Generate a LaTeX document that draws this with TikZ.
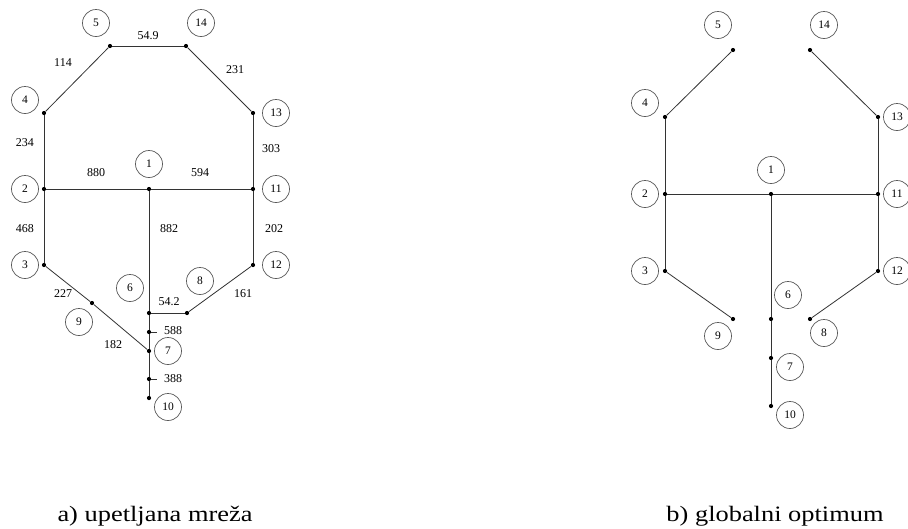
\documentclass[tikz,border=0pt]{standalone}
\usepackage{fontspec}
\setmainfont{Liberation Serif}
\newfontfamily\capfont[FakeStretch=1.2]{Liberation Serif}
\begin{document}
\begin{tikzpicture}[x=1pt,y=-1pt,
  jdot/.style={circle,fill=black,inner sep=0pt,minimum size=4.2pt},
  num/.style={circle,draw=black!65,line width=0.7pt,minimum size=27pt,inner sep=0pt,font=\fontsize{11.5}{12}\selectfont},
  lbl/.style={font=\fontsize{12}{13}\selectfont,inner sep=0pt},
  link/.style={draw=black!80,line width=0.8pt},
  captext/.style={font=\capfont\fontsize{22}{24}\selectfont,anchor=base,inner sep=0pt}]
\useasboundingbox (0,0) rectangle (908,528);
% ---------------- left: looped network
\node[jdot] (a5) at (110,46) {};
\node[jdot] (a14) at (186,46) {};
\node[jdot] (a4) at (44,113) {};
\node[jdot] (a13) at (253,113) {};
\node[jdot] (a2) at (44,189) {};
\node[jdot] (a1) at (149,189) {};
\node[jdot] (a11) at (253,189) {};
\node[jdot] (a3) at (44,265) {};
\node[jdot] (a12) at (253,265) {};
\node[jdot] (a9) at (92,303) {};
\node[jdot] (a6) at (149,313) {};
\node[jdot] (a8) at (187,313) {};
\node[jdot] (a588) at (149,332) {};
\node[jdot] (a7) at (149,351) {};
\node[jdot] (a388) at (149,379) {};
\node[jdot] (a10) at (149,398) {};
\coordinate (a588e) at (157,332);
\coordinate (a388e) at (157,379);
\draw[link] (a5) -- (a14);
\draw[link] (a5) -- (a4);
\draw[link] (a14) -- (a13);
\draw[link] (a4) -- (a2);
\draw[link] (a13) -- (a11);
\draw[link] (a2) -- (a1);
\draw[link] (a1) -- (a11);
\draw[link] (a2) -- (a3);
\draw[link] (a11) -- (a12);
\draw[link] (a1) -- (a6);
\draw[link] (a6) -- (a8);
\draw[link] (a8) -- (a12);
\draw[link] (a3) -- (a9);
\draw[link] (a9) -- (a7);
\draw[link] (a6) -- (a588);
\draw[link] (a588) -- (a7);
\draw[link] (a7) -- (a388);
\draw[link] (a388) -- (a10);
\draw[link] (a588) -- (a588e);
\draw[link] (a388) -- (a388e);
\node[num] (ca5) at (96,23) {5};
\node[num] (ca14) at (201,23) {14};
\node[num] (ca4) at (25,100) {4};
\node[num] (ca13) at (276,113) {13};
\node[num] (ca1) at (149,164) {1};
\node[num] (ca2) at (25,189) {2};
\node[num] (ca11) at (276,189) {11};
\node[num] (ca3) at (25,265) {3};
\node[num] (ca12) at (276,265) {12};
\node[num] (ca6) at (130,288) {6};
\node[num] (ca8) at (200,281) {8};
\node[num] (ca9) at (79,322) {9};
\node[num] (ca7) at (168,351) {7};
\node[num] (ca10) at (168,407) {10};
\node[lbl] (l549) at (148,36) {54.9};
\node[lbl] (l114) at (63,63) {114};
\node[lbl] (l231) at (235,70) {231};
\node[lbl] (l234) at (25,143) {234};
\node[lbl] (l303) at (271,149) {303};
\node[lbl] (l880) at (96,173) {880};
\node[lbl] (l594) at (200,173) {594};
\node[lbl] (l468) at (25,229) {468};
\node[lbl] (l882) at (169,229) {882};
\node[lbl] (l202) at (274,229) {202};
\node[lbl] (l227) at (63,294) {227};
\node[lbl] (l161) at (243,294) {161};
\node[lbl] (l542) at (169,302) {54.2};
\node[lbl] (l588) at (173,331) {588};
\node[lbl] (l182) at (113,345) {182};
\node[lbl] (l388) at (173,379) {388};
% ---------------- right: global optimum
\node[jdot] (b5) at (733,50) {};
\node[jdot] (b14) at (810,50) {};
\node[jdot] (b4) at (665,117) {};
\node[jdot] (b13) at (878,117) {};
\node[jdot] (b2) at (665,194) {};
\node[jdot] (b1) at (771,194) {};
\node[jdot] (b11) at (878,194) {};
\node[jdot] (b3) at (665,271) {};
\node[jdot] (b12) at (878,271) {};
\node[jdot] (b9) at (733,319) {};
\node[jdot] (b6) at (771,319) {};
\node[jdot] (b8) at (810,319) {};
\node[jdot] (b7) at (771,358) {};
\node[jdot] (b10) at (771,406) {};
\draw[link] (b5) -- (b4);
\draw[link] (b14) -- (b13);
\draw[link] (b4) -- (b2);
\draw[link] (b13) -- (b11);
\draw[link] (b2) -- (b1);
\draw[link] (b1) -- (b11);
\draw[link] (b2) -- (b3);
\draw[link] (b11) -- (b12);
\draw[link] (b3) -- (b9);
\draw[link] (b12) -- (b8);
\draw[link] (b1) -- (b6);
\draw[link] (b6) -- (b7);
\draw[link] (b7) -- (b10);
\node[num] (cb5) at (718,25) {5};
\node[num] (cb14) at (824,25) {14};
\node[num] (cb4) at (645,103) {4};
\node[num] (cb13) at (897,117) {13};
\node[num] (cb1) at (771,170) {1};
\node[num] (cb2) at (645,194) {2};
\node[num] (cb11) at (897,194) {11};
\node[num] (cb3) at (645,271) {3};
\node[num] (cb12) at (897,271) {12};
\node[num] (cb6) at (788,295) {6};
\node[num] (cb9) at (718,336) {9};
\node[num] (cb8) at (824,333) {8};
\node[num] (cb7) at (790,367) {7};
\node[num] (cb10) at (790,415) {10};
% ---------------- captions
\node[captext] (capa) at (155,521) {a) upetljana mreža};
\node[captext] (capb) at (775,521) {b) globalni optimum};
\end{tikzpicture}
\end{document}
